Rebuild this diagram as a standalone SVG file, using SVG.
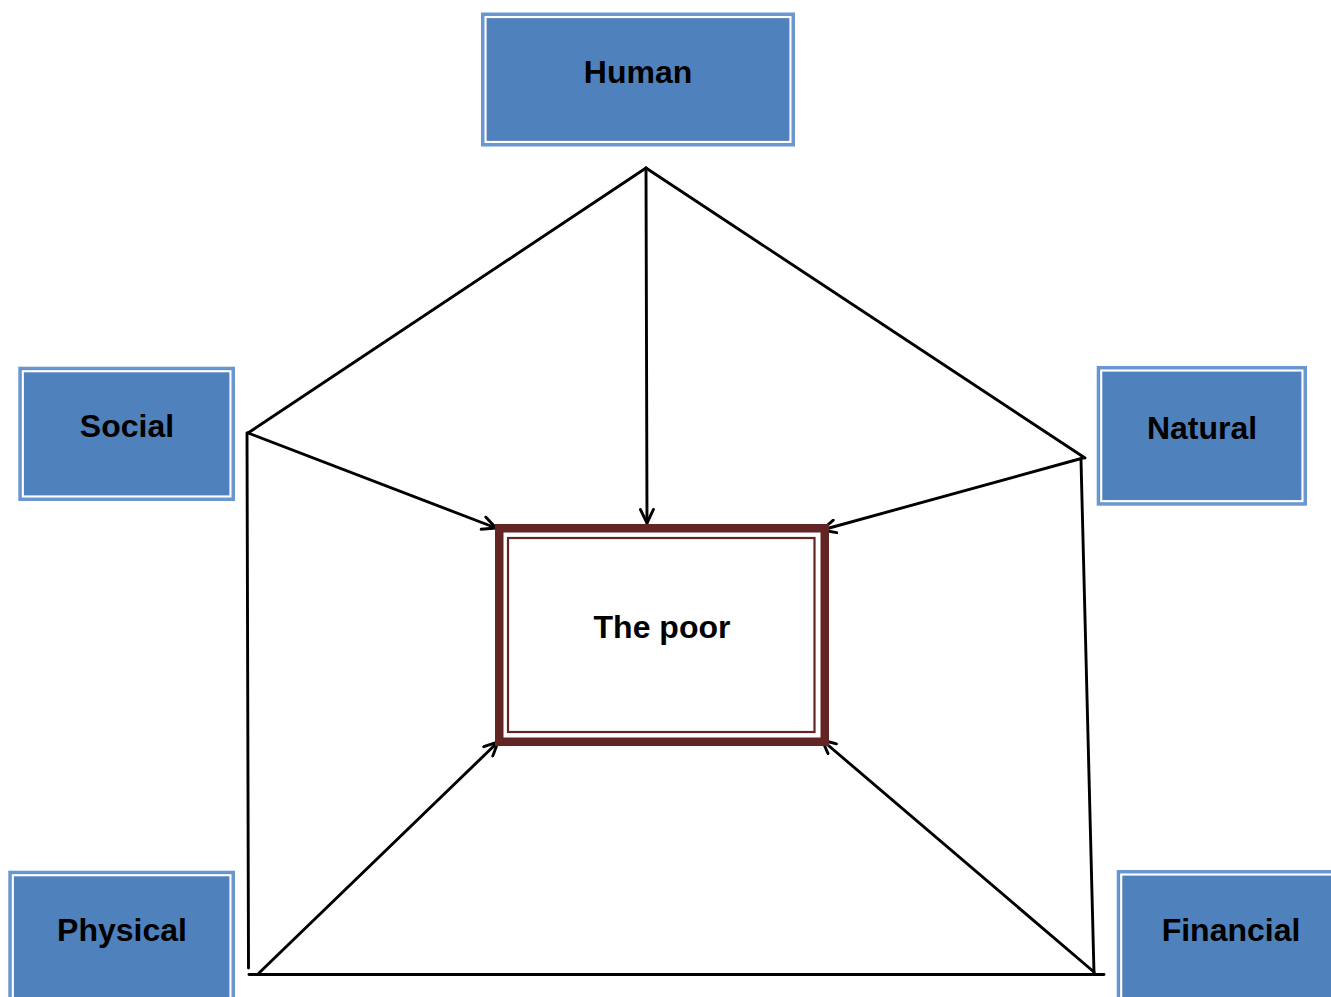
<svg xmlns="http://www.w3.org/2000/svg" width="1331" height="997" viewBox="0 0 1331 997">
<style>
.box{fill:#4F81BD;stroke:#6A96D2;stroke-width:3}
.inner{fill:none;stroke:#FFFFFF;stroke-width:2.2}
.lbl{font-family:"Liberation Sans",Arial,sans-serif;font-weight:bold;font-size:32px;fill:#000;text-anchor:middle}
.ln{fill:none;stroke:#000;stroke-width:2.9;stroke-linecap:round}
</style>
<defs>
<marker id="arr" viewBox="0 0 16 16" refX="15" refY="8" markerWidth="16" markerHeight="16" markerUnits="userSpaceOnUse" orient="auto">
<path d="M1.5,1.5 L15,8 L1.5,14.5" fill="none" stroke="#000" stroke-width="2.9" stroke-linecap="round" stroke-linejoin="round"/>
</marker>
</defs>
<g id="connectors">
<line class="ln" x1="646" y1="168" x2="248" y2="433"/>
<line class="ln" x1="646" y1="168" x2="1085" y2="458"/>
<line class="ln" x1="646" y1="168" x2="647" y2="523" marker-end="url(#arr)"/>
<line class="ln" x1="248" y1="433" x2="496" y2="528" marker-end="url(#arr)"/>
<line class="ln" x1="1083" y1="458" x2="822" y2="530" marker-end="url(#arr)"/>
<line class="ln" x1="247" y1="433" x2="248.5" y2="968"/>
<line class="ln" x1="1081" y1="460" x2="1094" y2="973"/>
<line class="ln" x1="249" y1="974.5" x2="1104" y2="974.5"/>
<line class="ln" x1="259" y1="973" x2="498" y2="742" marker-end="url(#arr)"/>
<line class="ln" x1="1094" y1="972" x2="822" y2="740" marker-end="url(#arr)"/>
</g>
<g id="human">
<rect class="box" x="482.5" y="14" width="311" height="131"/>
<rect class="inner" x="485.5" y="17" width="305" height="125"/>
<text class="lbl" x="638" y="83">Human</text>
</g>
<g id="social">
<rect class="box" x="19.8" y="368.2" width="213.7" height="131.3"/>
<rect class="inner" x="22.8" y="371.2" width="207.7" height="125.3"/>
<text class="lbl" x="127" y="437">Social</text>
</g>
<g id="natural">
<rect class="box" x="1098.2" y="367.5" width="207.3" height="136.7"/>
<rect class="inner" x="1101.2" y="370.5" width="201.3" height="130.7"/>
<text class="lbl" x="1202" y="439">Natural</text>
</g>
<g id="physical">
<rect class="box" x="9.8" y="872.2" width="223.7" height="140"/>
<rect class="inner" x="12.8" y="875.2" width="217.7" height="140"/>
<text class="lbl" x="122" y="941">Physical</text>
</g>
<g id="financial">
<rect class="box" x="1118.2" y="871.5" width="230" height="140"/>
<rect class="inner" x="1121.2" y="874.5" width="230" height="140"/>
<text class="lbl" x="1231" y="941">Financial</text>
</g>
<g id="the-poor">
<rect x="499.25" y="528.25" width="325.5" height="213.5" fill="#FFFFFF" stroke="#632523" stroke-width="8.5"/>
<rect x="508" y="538" width="306.5" height="194" fill="none" stroke="#632523" stroke-width="2.2"/>
<text class="lbl" x="662" y="638">The poor</text>
</g>
</svg>
